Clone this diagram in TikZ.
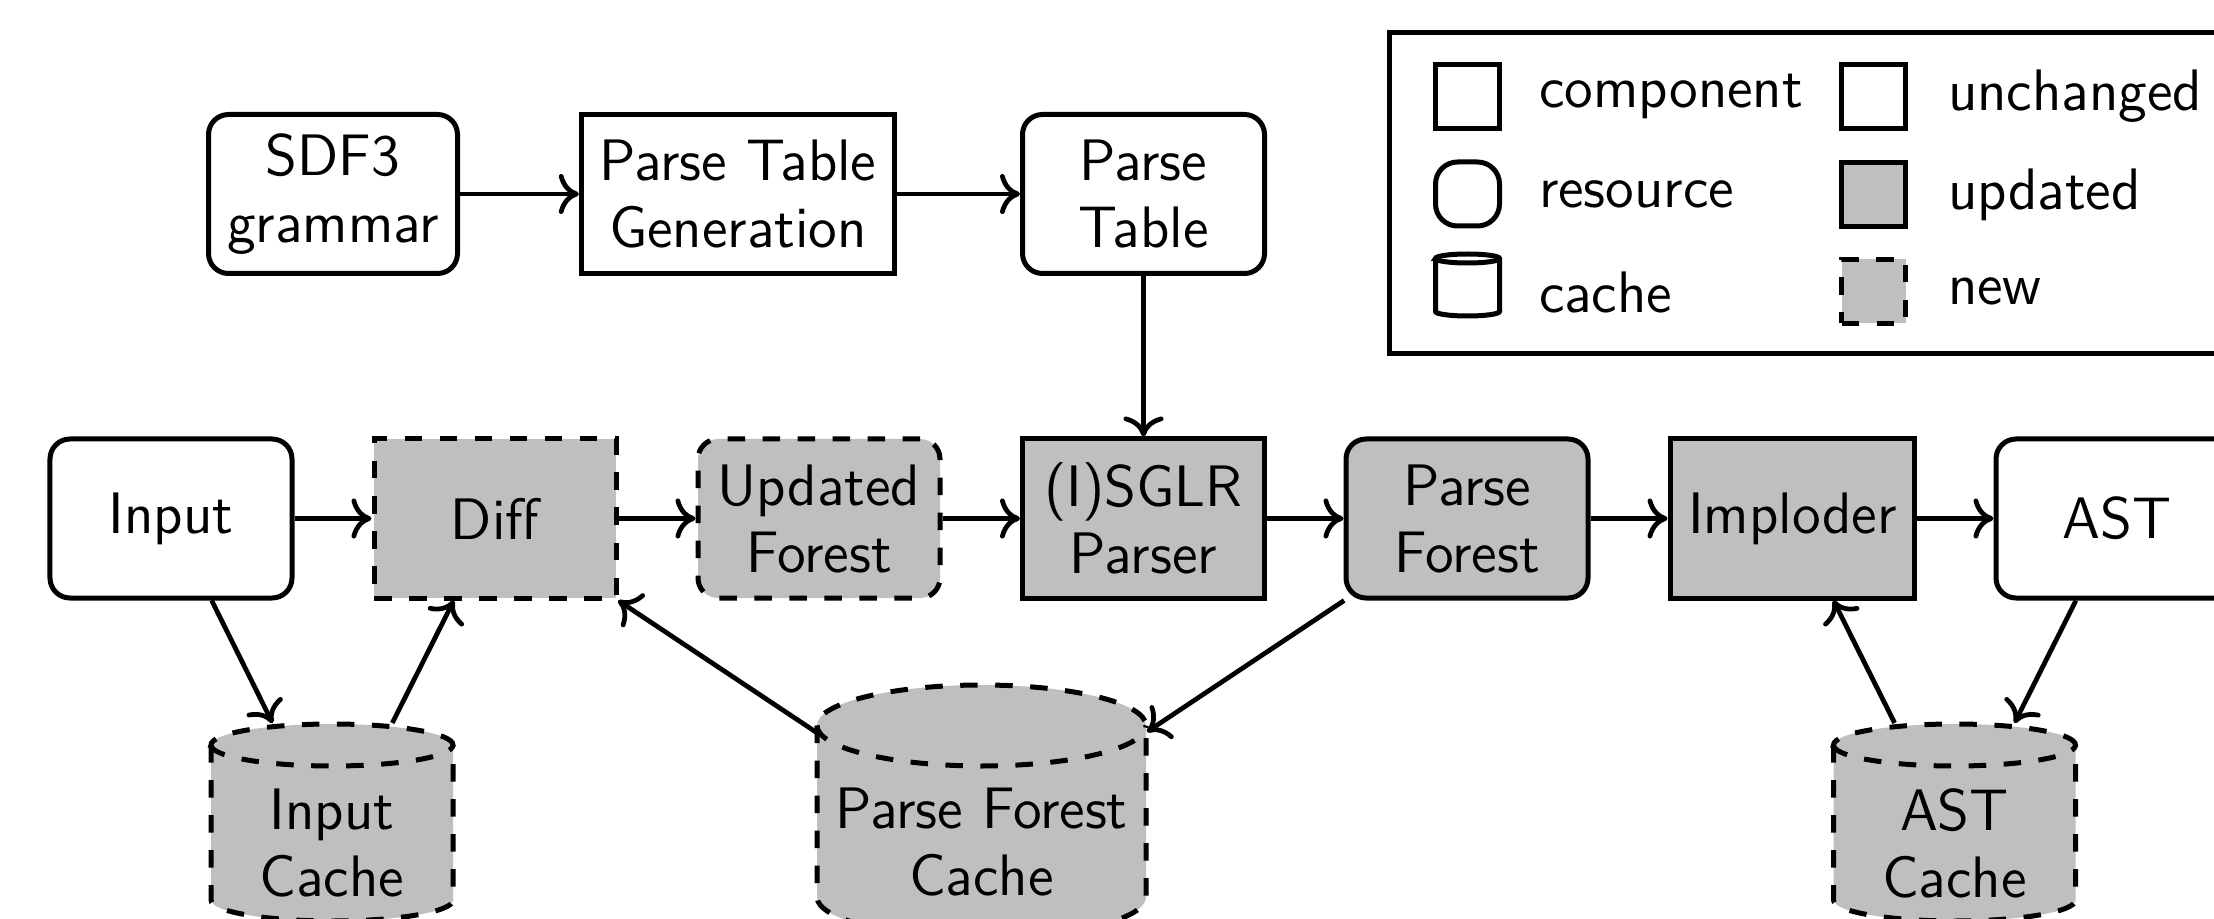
\documentclass[tikz,border=0pt]{standalone}
\usepackage{fontspec}
\usetikzlibrary{arrows.meta}
\tikzset{
  lbl/.style={font=\sffamily\fontsize{11.7}{13.4}\selectfont},
  basebox/.style={lbl, draw, line width=1pt, minimum width=48.4pt, minimum height=31.8pt, align=center, inner sep=3.67pt},
  comp/.style={basebox},
  res/.style={basebox, rounded corners=4pt},
  upd/.style={fill=lightgray},
  newdash/.style={dash pattern=on 3.5pt off 3.5pt},
  novel/.style={fill=lightgray, newdash},
  cachelbl/.style={lbl, align=center, inner sep=0pt, minimum width=48.4pt},
  conn/.style={-{Computer Modern Rightarrow[length=4pt,width=8pt]}, line width=0.95pt},
  cylbody/.style={fill=lightgray, draw, line width=1pt, newdash},
  legtext/.style={lbl, anchor=west, inner sep=0pt},
  legicon/.style={draw, line width=1pt, minimum width=12.8pt, minimum height=12.8pt, inner sep=0pt},
}
\begin{document}
\begin{tikzpicture}[x=0.2pt,y=-0.2pt]
\useasboundingbox (0,0) rectangle (2214,919);
\clip (0,0) rectangle (2214,919);

% ---- cylinders (drawn first) ----
% Input Cache
\path[cylbody] (211,745) -- (211,900) arc[start angle=180,end angle=360,x radius=24.2pt,y radius=4.2pt]
  -- (453,745) arc[start angle=0,end angle=180,x radius=24.2pt,y radius=4.2pt] -- cycle;
\draw[line width=1pt,newdash] (211,745) arc[start angle=180,end angle=360,x radius=24.2pt,y radius=4.2pt];
% Parse Forest Cache
\path[cylbody] (817,725.5) -- (817,897) arc[start angle=180,end angle=360,x radius=32.9pt,y radius=8.1pt]
  -- (1146,725.5) arc[start angle=0,end angle=180,x radius=32.9pt,y radius=8.1pt] -- cycle;
\draw[line width=1pt,newdash] (817,725.5) arc[start angle=180,end angle=360,x radius=32.9pt,y radius=8.1pt];
% AST Cache
\path[cylbody] (1833.5,745) -- (1833.5,900) arc[start angle=180,end angle=360,x radius=24.2pt,y radius=4.2pt]
  -- (2075.5,745) arc[start angle=0,end angle=180,x radius=24.2pt,y radius=4.2pt] -- cycle;
\draw[line width=1pt,newdash] (1833.5,745) arc[start angle=180,end angle=360,x radius=24.2pt,y radius=4.2pt];

% ---- top row ----
\node[res, minimum width=49.8pt] (sdf) at (333,194) {SDF3\\grammar};
\node[comp] (ptg) at (738,194) {Parse Table\\Generation};
\node[res] (ptab) at (1143.5,194) {Parse\\Table};

% ---- main row ----
\node[res] (input) at (171,518.5) {Input};
\node[comp, novel] (diff) at (495,518.5) {Diff};
\node[res, novel] (uf) at (819,518.5) {Updated\\Forest};
\node[comp, upd] (sglr) at (1143.5,518.5) {(I)SGLR\\Parser};
\node[res, upd] (pf) at (1467,518.5) {Parse\\Forest};
\node[comp, upd] (imp) at (1792.5,518.5) {Imploder};
\node[res] (ast) at (2117,518.5) {AST};

% ---- cache labels ----
\node[cachelbl, minimum height=47.6pt] (ic) at (332,843) {Input\\Cache};
\node[cachelbl, minimum width=65.8pt, minimum height=62.8pt] (pfc) at (981.5,842) {Parse Forest\\Cache};
\node[cachelbl, minimum height=47.6pt] (ac) at (1954.5,843) {AST\\Cache};

% ---- connectors ----
\draw[conn] (sdf) -- (ptg);
\draw[conn] (ptg) -- (ptab);
\draw[conn] (ptab) -- (sglr);
\draw[conn] (input) -- (diff);
\draw[conn] (diff) -- (uf);
\draw[conn] (uf) -- (sglr);
\draw[conn] (sglr) -- (pf);
\draw[conn] (pf) -- (imp);
\draw[conn] (imp) -- (ast);
\draw[conn] (input) -- (ic);
\draw[conn] (ic) -- (diff);
\draw[conn] (pf) -- (pfc);
\draw[conn] (pfc) -- (diff);
\draw[conn] (ac) -- (imp);
\draw[conn] (ast) -- (ac);

% ---- legend ----
\draw[line width=1pt] (1389,33) rectangle (2260,354);
\node[legicon] (lgcomp) at (1467.5,96.5) {};
\node[legicon, rounded corners=4.4pt] (lgres) at (1467.5,194) {};
\draw[line width=1pt] (1435.5,258.5) -- (1435.5,311.5) arc[start angle=180,end angle=360,x radius=6.4pt,y radius=0.9pt]
  -- (1499.5,258.5) arc[start angle=0,end angle=180,x radius=6.4pt,y radius=0.9pt] -- cycle;
\draw[line width=1pt] (1435.5,258.5) arc[start angle=180,end angle=360,x radius=6.4pt,y radius=0.9pt];
\node[legicon] (lgunch) at (1873.5,96.5) {};
\node[legicon, fill=lightgray] (lgupd) at (1873.5,195) {};
\node[legicon, fill=lightgray, newdash] (lgnew) at (1873.5,291.5) {};

\node[legtext] (tcomp) at (1538,96.5) {component};
\node[legtext] (tres) at (1538,194.5) {resource};
\node[legtext] (tcache) at (1538,292) {cache};
\node[legtext] (tunch) at (1947,96.5) {unchanged};
\node[legtext] (tupd) at (1947,195) {updated};
\node[legtext] (tnew) at (1947,291.5) {new};
\end{tikzpicture}
\end{document}
